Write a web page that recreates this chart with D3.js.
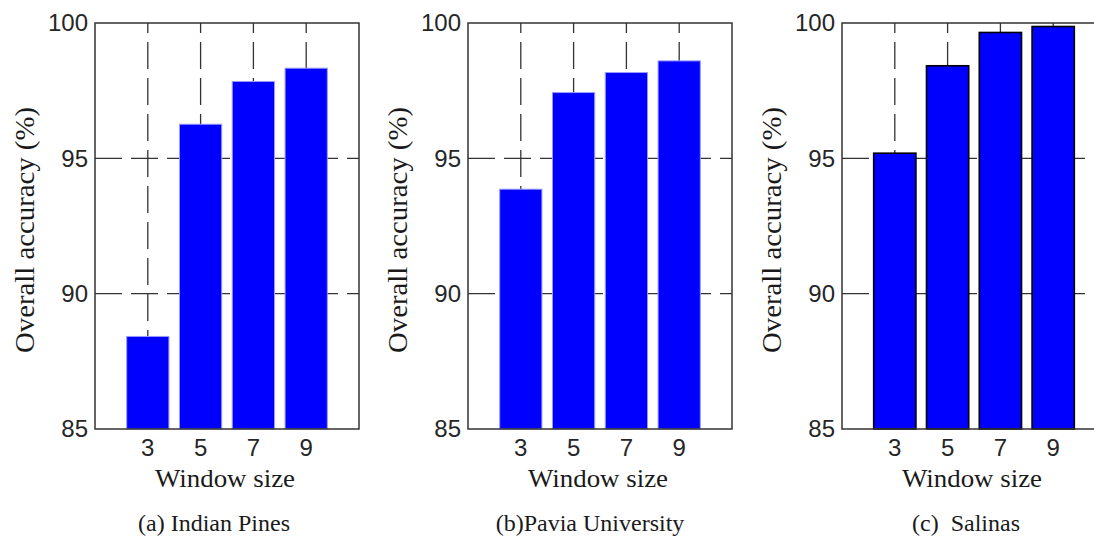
<!DOCTYPE html>
<html>
<head>
<meta charset="utf-8">
<script src="https://cdn.jsdelivr.net/npm/d3@7"></script>
<style>
  html, body { margin: 0; padding: 0; background: #fff; }
  svg { display: block; }
</style>
</head>
<body>
<svg id="chart" width="1094" height="538"></svg>
<script>
// Window sizes tested and overall accuracy (%) for each dataset
const windowSizes = [3, 5, 7, 9];
const indianPines = [88.42, 96.26, 97.84, 98.33];
const paviaUniversity = [93.86, 97.43, 98.17, 98.60];
const salinas = [95.19, 98.42, 99.65, 99.87];
const yTicks = [85, 90, 95, 100];
const captions = ["(a) Indian Pines", "(b)Pavia University", "(c)  Salinas"];

const panels = [
  { values: indianPines, caption: captions[0], left: 95, outline: "#9a9aff", outlineW: 1, capX: 214 },
  { values: paviaUniversity, caption: captions[1], left: 468, outline: "#9a9aff", outlineW: 1, capX: 590 },
  { values: salinas, caption: captions[2], left: 842, outline: "#000", outlineW: 1.6, capX: 966 }
];

const svg = d3.select("#chart");
const plotW = 264, plotTop = 23, plotBottom = 429;
const ink = "#333";

panels.forEach(p => {
  const x = d3.scaleLinear().domain([1, 11]).range([p.left, p.left + plotW]);
  const y = d3.scaleLinear().domain([85, 100]).range([plotBottom, plotTop]);
  const g = svg.append("g");
  // bars take 80% of the 2-unit spacing between window sizes
  const barW = x(1 + 1.6) - x(1);

  // dashed grid
  g.selectAll("line.vgrid").data(windowSizes).join("line")
    .attr("x1", d => x(d)).attr("x2", d => x(d))
    .attr("y1", y(85)).attr("y2", y(100))
    .attr("stroke", ink).attr("stroke-width", 1.3)
    .attr("stroke-dasharray", "27,9");
  g.selectAll("line.hgrid").data(yTicks.filter(t => t > 85 && t < 100)).join("line")
    .attr("x1", x(1)).attr("x2", x(11))
    .attr("y1", d => y(d)).attr("y2", d => y(d))
    .attr("stroke", ink).attr("stroke-width", 1.3)
    .attr("stroke-dasharray", "27,9");

  // bars
  g.selectAll("rect.bar").data(p.values).join("rect")
    .attr("x", (d, i) => x(windowSizes[i]) - barW / 2)
    .attr("width", barW)
    .attr("y", d => y(d))
    .attr("height", d => y(85) - y(d))
    .attr("fill", "#0000ff")
    .attr("stroke", p.outline)
    .attr("stroke-width", p.outlineW);

  // axis box
  g.append("rect")
    .attr("x", x(1)).attr("y", y(100))
    .attr("width", x(11) - x(1)).attr("height", y(85) - y(100))
    .attr("fill", "none").attr("stroke", ink).attr("stroke-width", 1.5);

  // y tick labels
  g.selectAll("text.yt").data(yTicks).join("text")
    .attr("x", x(1) - 7).attr("y", d => y(d))
    .attr("dy", "0.35em")
    .attr("text-anchor", "end")
    .attr("font-family", "Liberation Sans, Arial, sans-serif")
    .attr("font-size", 24).attr("fill", "#262626")
    .text(d => d);

  // x tick labels
  g.selectAll("text.xt").data(windowSizes).join("text")
    .attr("x", d => x(d)).attr("y", 456)
    .attr("text-anchor", "middle")
    .attr("font-family", "Liberation Sans, Arial, sans-serif")
    .attr("font-size", 24).attr("fill", "#262626")
    .text(d => d);

  // axis titles
  g.append("text")
    .attr("x", (x(1) + x(11)) / 2 - 2).attr("y", 487)
    .attr("text-anchor", "middle")
    .attr("font-family", "Liberation Serif, Times New Roman, serif")
    .attr("font-size", 26).attr("fill", "#1a1a1a")
    .attr("textLength", 140).attr("lengthAdjust", "spacingAndGlyphs")
    .text("Window size");

  g.append("text")
    .attr("transform", `translate(${p.left - 61},230) rotate(-90)`)
    .attr("text-anchor", "middle")
    .attr("font-family", "Liberation Serif, Times New Roman, serif")
    .attr("font-size", 27).attr("fill", "#1a1a1a")
    .attr("textLength", 246).attr("lengthAdjust", "spacingAndGlyphs")
    .text("Overall accuracy (%)");

  // panel caption
  g.append("text")
    .attr("x", p.capX).attr("y", 531)
    .attr("text-anchor", "middle")
    .attr("font-family", "Liberation Serif, Times New Roman, serif")
    .attr("font-size", 24).attr("fill", "#1a1a1a")
    .style("white-space", "pre")
    .text(p.caption);
});
</script>
</body>
</html>
